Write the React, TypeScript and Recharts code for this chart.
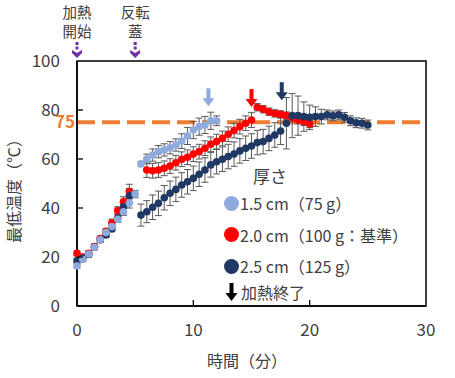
import {
  ScatterChart,
  Scatter,
  XAxis,
  YAxis,
  ErrorBar,
  ReferenceLine,
  ReferenceDot,
  ReferenceArea,
  Label,
} from "recharts";

const FONT = "'Noto Sans CJK JP', 'Noto Sans', sans-serif";
const TEXT = "#404040";
const LIGHT = "#8FAADC";
const RED = "#FF0000";
const NAVY = "#203864";
const ORANGE = "#ED7D31";
const PURPLE = "#7030A0";

// 1.5 cm (75 g)
const thinTime = [0, 0.5, 1, 1.5, 2, 2.5, 3, 3.5, 4, 4.5, 5, 5.5, 6, 6.5, 7, 7.5, 8, 8.5, 9, 9.5, 10, 10.5, 11, 11.5, 12];
const thinTemp = [16.3, 19, 21.2, 24, 27, 30, 32.4, 35.4, 38.5, 42, 45.7, 58, 60, 61.6, 63, 63.7, 64.6, 65.7, 67.3, 69.4, 71.8, 73.2, 73.9, 75.6, 75.6];
const thinErr = [0.8, 0.8, 0.8, 1, 1, 1, 1, 1.2, 1.5, 2, 1.5, 1, 2, 2.5, 2.5, 2.5, 2.5, 2.5, 3, 3.5, 3.5, 3.5, 3.5, 3.5, 2];

// 2.0 cm (100 g)
const midTime = [0, 0.5, 1, 1.5, 2, 2.5, 3, 3.5, 4, 4.5, 6, 6.5, 7, 7.5, 8, 8.5, 9, 9.5, 10, 10.5, 11, 11.5, 12, 12.5, 13, 13.5, 14, 14.5, 15, 15.5, 16, 16.5, 17, 17.5, 18, 18.5, 19, 19.5, 20];
const midTemp = [21.5, 20, 21.5, 24.3, 27.5, 30.5, 34, 39, 42.6, 46.7, 55.5, 55.2, 55.5, 56.2, 57.1, 58.5, 59.9, 60.7, 62, 63, 64.4, 66, 67.1, 68.4, 70.1, 71.6, 73.2, 74.6, 75.9, 81.1, 80.3, 79.3, 78.6, 78.2, 77.7, 76.8, 75.8, 75.2, 74.3];
const midErr = [1, 1, 1, 1, 1, 1, 1.5, 1.5, 2, 3, 3, 3, 3, 3, 3, 3, 3, 3, 3, 3, 3, 3, 3, 3, 3, 3, 3, 3, 3, 1.5, 1.5, 1.5, 1.5, 1.5, 1.5, 1.5, 1.5, 1.5, 1.5];

// 2.5 cm (125 g)
const thickTime = [0, 0.5, 1, 1.5, 2, 2.5, 3, 3.5, 4, 4.5, 5.5, 6, 6.5, 7, 7.5, 8, 8.5, 9, 9.5, 10, 10.5, 11, 11.5, 12, 12.5, 13, 13.5, 14, 14.5, 15, 15.5, 16, 16.5, 17, 17.5, 18, 18.5, 19, 19.5, 20, 20.5, 21, 21.5, 22, 22.5, 23, 23.5, 24, 24.5, 25];
const thickTemp = [18.5, 19.5, 21, 24, 27, 29, 31.5, 36, 40.5, 45, 37.1, 38.5, 40.3, 41.9, 44.2, 46, 47.6, 49.4, 50.7, 52.1, 53.8, 55.5, 57.6, 58.9, 59.9, 61, 62, 63.3, 64.4, 65.3, 66.7, 67.1, 68.4, 69.8, 71.4, 74.6, 77.7, 77.7, 77.3, 77, 77.3, 77.3, 78, 77.6, 78, 77, 75.6, 74.8, 74.6, 73.9];
const thickErr = [1, 1, 1, 1, 1, 1, 1.2, 1.5, 2.5, 3, 4.5, 4.5, 5, 5, 5, 5, 5, 5, 5, 5, 5, 5, 5, 5, 5, 5, 5, 5, 5, 5, 5, 5, 5, 5, 5.5, 10.5, 9, 8, 6, 5, 4, 3, 2, 2, 2, 2, 2, 2, 2, 2];

// heating-end arrows (time, tip temperature)
const endTime = [11.3, 15.0, 17.6];
const endTip = [81.5, 81.2, 84];
const endColor = [LIGHT, RED, NAVY];

const eventTime = [0, 5];
const eventLines = [["加熱", "開始"], ["反転", "蓋"]];

const xTicks = [0, 10, 20, 30];
const yTicks = [0, 20, 40, 60, 80, 100];

const toRows = (t: number[], v: number[], e: number[]) =>
  t.map((tt, i) => ({ t: tt, v: v[i], e: e[i] }));

const thinData = toRows(thinTime, thinTemp, thinErr);
const midData = toRows(midTime, midTemp, midErr);
const thickData = toRows(thickTime, thickTemp, thickErr);

const dot = (color: string) => (p: any) =>
  <circle cx={p.cx} cy={p.cy} r={3.8} fill={color} />;

const XTick = (p: any) => {
  const v = p.payload.value;
  const axisY = p.y - 18;
  return (
    <g>
      {v !== 0 && v !== 30 && (
        <line x1={p.x} x2={p.x} y1={axisY} y2={axisY - 6} stroke="#000" strokeWidth={1.3} />
      )}
      <text x={p.x} y={p.y} dy="0.71em" textAnchor="middle" fontSize={17} fill={TEXT} fontFamily={FONT}>
        {v}
      </text>
    </g>
  );
};

const YTick = (p: any) => {
  const v = p.payload.value;
  const axisX = p.x + 17;
  return (
    <g>
      {v !== 0 && v !== 100 && (
        <line x1={axisX} x2={axisX + 6} y1={p.y} y2={p.y} stroke="#000" strokeWidth={1.3} />
      )}
      <text x={p.x} y={p.y} dy="0.36em" textAnchor="end" fontSize={17} fill={TEXT} fontFamily={FONT}>
        {v}
      </text>
    </g>
  );
};

const EndArrow = (color: string) => (p: any) => {
  const { cx, cy } = p;
  return (
    <g>
      <rect x={cx - 2} y={cy - 18} width={4} height={11} fill={color} />
      <path d={`M${cx - 6},${cy - 8} L${cx + 6},${cy - 8} L${cx},${cy} Z`} fill={color} />
    </g>
  );
};

const EventMark = (lines: string[]) => (p: any) => {
  const { cx, cy } = p;
  return (
    <g>
      <text x={cx} y={cy - 50} textAnchor="middle" dominantBaseline="central" fontSize={14.5} fill={TEXT} fontFamily={FONT}>
        {lines[0]}
      </text>
      <text x={cx} y={cy - 31} textAnchor="middle" dominantBaseline="central" fontSize={14.5} fill={TEXT} fontFamily={FONT}>
        {lines[1]}
      </text>
      <rect x={cx - 1.5} y={cy - 19} width={3} height={3} fill={PURPLE} />
      <rect x={cx - 1.5} y={cy - 14.5} width={3} height={3} fill={PURPLE} />
      <path d={`M${cx - 5},${cy - 11} L${cx},${cy - 8} L${cx + 5},${cy - 11} L${cx + 5},${cy - 8} L${cx},${cy - 3} L${cx - 5},${cy - 8} Z`} fill={PURPLE} />
    </g>
  );
};

const legendItems = [
  { color: LIGHT, text: "1.5 cm（75 g）" },
  { color: RED, text: "2.0 cm（100 g：基準）" },
  { color: NAVY, text: "2.5 cm（125 g）" },
];

const App = () => (
  <div style={{ position: "absolute", left: 0, top: 0, width: 455, height: 378, fontFamily: FONT }}>
    <ScatterChart width={455} height={378} margin={{ top: 61, right: 29, bottom: 30, left: 0 }}>
      <XAxis
        type="number"
        dataKey="t"
        domain={[0, 30]}
        ticks={xTicks}
        tickSize={0}
        tickMargin={18}
        tick={<XTick />}
        axisLine={{ stroke: "#000", strokeWidth: 1.5 }}
        height={42}
      >
        <Label
          content={() => (
            <text x={247} y={360} textAnchor="middle" dominantBaseline="central" fontSize={16} fill={TEXT} fontFamily={FONT}>
              時間（分）
            </text>
          )}
        />
      </XAxis>
      <YAxis
        type="number"
        dataKey="v"
        domain={[0, 100]}
        ticks={yTicks}
        tickSize={0}
        tickMargin={17}
        tick={<YTick />}
        axisLine={{ stroke: "#000", strokeWidth: 1.5 }}
        width={77}
      >
        <Label
          content={() => (
            <text
              x={13}
              y={187}
              transform="rotate(-90 13 187)"
              textAnchor="middle"
              dominantBaseline="central"
              fontSize={16}
              fill={TEXT}
              fontFamily={FONT}
            >
              最低温度（℃）
            </text>
          )}
        />
      </YAxis>
      <ReferenceArea x1={0} x2={30} y1={0} y2={100} fill="none" stroke="#000" strokeWidth={1.5} />
      <ReferenceLine
        y={75}
        stroke={ORANGE}
        strokeWidth={4}
        strokeDasharray="18 7"
        label={{ value: "75", position: "left", offset: 2, fill: ORANGE, fontSize: 17, fontWeight: 700, fontFamily: FONT }}
      />
      <Scatter data={midData} isAnimationActive={false} shape={dot(RED)}>
        <ErrorBar dataKey="e" direction="y" width={3.5} stroke="#595959" strokeWidth={1} />
      </Scatter>
      <Scatter data={thickData} isAnimationActive={false} shape={dot(NAVY)}>
        <ErrorBar dataKey="e" direction="y" width={3.5} stroke="#595959" strokeWidth={1} />
      </Scatter>
      <Scatter data={thinData} isAnimationActive={false} shape={dot(LIGHT)}>
        <ErrorBar dataKey="e" direction="y" width={3.5} stroke="#595959" strokeWidth={1} />
      </Scatter>
      {endTime.map((t, i) => (
        <ReferenceDot key={`end-${i}`} x={t} y={endTip[i]} ifOverflow="visible" shape={EndArrow(endColor[i])} />
      ))}
      {eventTime.map((t, i) => (
        <ReferenceDot key={`ev-${i}`} x={t} y={100} ifOverflow="visible" shape={EventMark(eventLines[i])} />
      ))}
    </ScatterChart>

    <div style={{ position: "absolute", left: 224, top: 166, color: TEXT, fontSize: 16, lineHeight: "20px" }}>
      <div style={{ position: "absolute", left: 29, top: 0, fontSize: 17, whiteSpace: "nowrap" }}>厚さ</div>
      {legendItems.map((it, i) => (
        <div key={it.text} style={{ position: "absolute", left: 0, top: 27 + i * 31.5, display: "flex", alignItems: "center", whiteSpace: "nowrap" }}>
          <span style={{ display: "inline-block", width: 15, height: 15, borderRadius: "50%", background: it.color, marginRight: 1 }} />
          <span>{it.text}</span>
        </div>
      ))}
      <div style={{ position: "absolute", left: 0, top: 116, display: "flex", alignItems: "center", whiteSpace: "nowrap" }}>
        <svg width={15} height={20}>
          <rect x={5.5} y={1} width={4} height={11} fill="#000" />
          <path d="M1.5,11 L13.5,11 L7.5,19 Z" fill="#000" />
        </svg>
        <span style={{ marginLeft: 2 }}>加熱終了</span>
      </div>
    </div>
  </div>
);

export default App;
